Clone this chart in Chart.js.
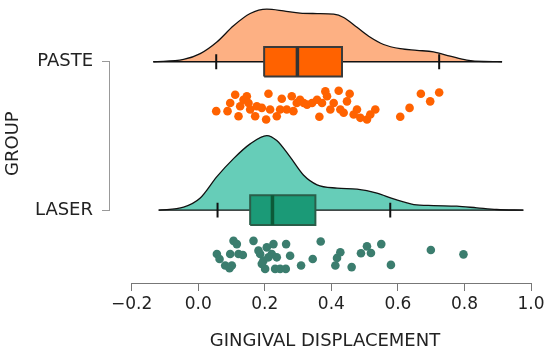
<!DOCTYPE html>
<html>
<head>
<meta charset="utf-8">
<script src="https://cdn.jsdelivr.net/npm/chart.js@4.4.1/dist/chart.umd.min.js"></script>
<style>
html,body{margin:0;padding:0;background:#fff;}
#wrap{width:550px;height:355px;}
</style>
</head>
<body>
<div id="wrap"><canvas id="c" width="550" height="355"></canvas></div>
<script>
// ---- data ----
const xTicks = [-0.2, 0.0, 0.2, 0.4, 0.6, 0.8, 1.0];
const groups = ['LASER', 'PASTE'];           // y position 1 and 2

// kernel density estimates (value grid and density)
const pasteDensX = [-0.135,-0.044,0.006,0.056,0.106,0.156,0.206,0.256,0.306,0.357,0.407,0.437,0.477,0.517,0.557,0.607,0.657,0.707,0.757,0.807,0.857,0.913];
const pasteDens  = [0,0.11,0.39,0.95,1.73,2.32,2.53,2.45,2.34,2.32,2.29,2.13,1.66,1.18,0.83,0.63,0.55,0.47,0.27,0.08,0.01,0];
const laserDensX = [-0.119,-0.044,0.006,0.056,0.106,0.156,0.206,0.236,0.276,0.316,0.357,0.417,0.477,0.537,0.587,0.648,0.707,0.777,0.837,0.897,0.977];
const laserDens  = [0,0.14,0.58,1.61,2.48,3.19,3.59,3.35,2.56,1.69,1.22,1.06,1.01,0.82,0.54,0.27,0.22,0.19,0.11,0.03,0];

// box statistics: lower whisker, Q1, median, Q3, upper whisker
const pasteStats = [0.054, 0.198, 0.298, 0.432, 0.724];
const laserStats = [0.058, 0.156, 0.223, 0.352, 0.577];

// raw observations and their vertical jitter
const pasteX   = [0.054,0.088,0.096,0.111,0.121,0.126,0.136,0.146,0.151,0.156,0.171,0.176,0.191,0.204,0.211,0.216,0.236,0.246,0.251,0.266,0.281,0.286,0.296,0.306,0.317,0.327,0.342,0.357,0.364,0.372,0.382,0.387,0.397,0.407,0.422,0.427,0.437,0.447,0.455,0.467,0.477,0.487,0.507,0.517,0.532,0.607,0.635,0.669,0.697,0.724];
const pasteJit = [-0.333,-0.333,-0.278,-0.222,-0.367,-0.300,-0.256,-0.233,-0.278,-0.322,-0.367,-0.300,-0.311,-0.389,-0.216,-0.322,-0.367,-0.322,-0.249,-0.322,-0.233,-0.333,-0.278,-0.256,-0.278,-0.289,-0.278,-0.256,-0.371,-0.278,-0.200,-0.233,-0.322,-0.278,-0.196,-0.322,-0.344,-0.267,-0.216,-0.356,-0.322,-0.378,-0.389,-0.356,-0.322,-0.371,-0.311,-0.216,-0.267,-0.207];
const laserX   = [0.056,0.064,0.081,0.094,0.101,0.096,0.106,0.116,0.121,0.134,0.166,0.181,0.186,0.196,0.201,0.206,0.211,0.221,0.226,0.231,0.246,0.263,0.264,0.276,0.309,0.344,0.368,0.412,0.417,0.427,0.461,0.489,0.507,0.519,0.550,0.579,0.699,0.797,0.191,0.236];
const laserJit = [-0.296,-0.329,-0.373,-0.391,-0.373,-0.296,-0.207,-0.229,-0.296,-0.302,-0.207,-0.273,-0.296,-0.340,-0.396,-0.251,-0.318,-0.296,-0.229,-0.396,-0.396,-0.396,-0.229,-0.307,-0.373,-0.329,-0.211,-0.373,-0.322,-0.284,-0.384,-0.291,-0.244,-0.289,-0.229,-0.369,-0.269,-0.298,-0.362,-0.318];

// ---- build datasets ----
const DENS_SCALE = 0.14;   // density -> group units
const BOX_HALF = 0.1;
const CAP_HALF = 0.05;

function groupDatasets(pos, dx, dd, st, px, pj, c) {
  const ds = [];
  ds.push({ // half violin
    type:'line', order:10,
    data: dx.map((x,i)=>({x:x, y:pos + dd[i]*DENS_SCALE})),
    borderColor:'#111', borderWidth:1.3, backgroundColor:c.dens,
    fill:{value:pos}, pointRadius:0, cubicInterpolationMode:'monotone'
  });
  ds.push({ // baseline
    type:'line', order:9,
    data:[{x:dx[0],y:pos},{x:dx[dx.length-1],y:pos}],
    borderColor:'#111', borderWidth:1.3, pointRadius:0, fill:false
  });
  ds.push({ // whisker caps
    type:'line', order:8,
    data:[{x:st[0],y:pos-CAP_HALF},{x:st[0],y:pos+CAP_HALF},{x:st[0],y:null},
          {x:st[4],y:pos-CAP_HALF},{x:st[4],y:pos+CAP_HALF}],
    borderColor:'#111', borderWidth:2, pointRadius:0, fill:false, spanGaps:false
  });
  ds.push({ // box
    type:'line', order:7,
    data:[{x:st[1],y:pos-BOX_HALF},{x:st[3],y:pos-BOX_HALF},{x:st[3],y:pos+BOX_HALF},{x:st[1],y:pos+BOX_HALF},{x:st[1],y:pos-BOX_HALF}],
    borderColor:c.boxLine, borderWidth:2, backgroundColor:c.box, fill:'shape',
    pointRadius:0, borderJoinStyle:'miter'
  });
  ds.push({ // median
    type:'line', order:6,
    data:[{x:st[2],y:pos-BOX_HALF},{x:st[2],y:pos+BOX_HALF}],
    borderColor:c.med, borderWidth:3.5, pointRadius:0, fill:false
  });
  ds.push({ // points
    type:'scatter', order:5,
    data: px.map((x,i)=>({x:x, y:pos + pj[i]})),
    backgroundColor:c.pt, borderWidth:0, pointRadius:4.3, showLine:false
  });
  return ds;
}

const datasets = [
  ...groupDatasets(2, pasteDensX, pasteDens, pasteStats, pasteX, pasteJit,
     {dens:'#fdb083', box:'#ff6200', boxLine:'#3a3a3a', med:'#333333', pt:'#ff6200'}),
  ...groupDatasets(1, laserDensX, laserDens, laserStats, laserX, laserJit,
     {dens:'#66cdb8', box:'#1b9a77', boxLine:'#2a5e49', med:'#0c5a38', pt:'#3b7d6e'})
];

const axisLines = {
  id:'axisLines',
  afterDraw(chart){
    const {ctx, chartArea, scales:{x, y}} = chart;
    ctx.save();
    ctx.lineWidth = 1;
    ctx.strokeStyle = '#777';
    ctx.beginPath();
    ctx.moveTo(x.getPixelForValue(xTicks[0]), chartArea.bottom + 0.5);
    ctx.lineTo(x.getPixelForValue(xTicks[xTicks.length-1]), chartArea.bottom + 0.5);
    ctx.stroke();
    ctx.strokeStyle = '#999';
    ctx.beginPath();
    ctx.moveTo(chartArea.left - 0.5, y.getPixelForValue(1));
    ctx.lineTo(chartArea.left - 0.5, y.getPixelForValue(groups.length));
    ctx.stroke();
    ctx.restore();
  }
};

const FONT = "'DejaVu Sans', Verdana, sans-serif";
new Chart(document.getElementById('c'), {
  type:'scatter',
  data:{datasets},
  options:{
    responsive:false, animation:false,
    layout:{padding:{top:0,right:10,bottom:0,left:0}},
    plugins:{legend:{display:false}, tooltip:{enabled:false}},
    scales:{
      x:{
        type:'linear', min:-0.2652, max:1.027,
        afterBuildTicks:s=>{ s.ticks = xTicks.map(v=>({value:v})); },
        afterFit:s=>{ s.height = 72; s.paddingLeft = 0; s.paddingRight = 0; },
        ticks:{
          callback:v=> (v<0?'\u2212':'') + Math.abs(v).toFixed(1),
          font:{family:FONT,size:17}, color:'#222', padding:3, maxRotation:0, autoSkip:false
        },
        grid:{drawOnChartArea:false, drawTicks:true, tickLength:8, color:'#777', lineWidth:1},
        border:{display:false},
        title:{display:true, text:'GINGIVAL DISPLACEMENT', font:{family:FONT,size:18}, color:'#222', padding:{top:14,bottom:3}}
      },
      y:{
        type:'linear', min:0.509, max:2.387,
        afterBuildTicks:s=>{ s.ticks = groups.map((g,i)=>({value:i+1})); },
        afterFit:s=>{ s.width = 110; s.paddingTop = 0; s.paddingBottom = 0; },
        ticks:{
          callback:v=> groups[v-1] || '',
          font:{family:FONT,size:18}, color:'#222', padding:9, autoSkip:false
        },
        grid:{drawOnChartArea:false, drawTicks:true, tickLength:8, color:'#999', lineWidth:1},
        border:{display:false},
        title:{display:true, text:'GROUP', font:{family:FONT,size:18}, color:'#222', padding:{top:3,bottom:10}}
      }
    }
  },
  plugins:[axisLines]
});
</script>
</body>
</html>
